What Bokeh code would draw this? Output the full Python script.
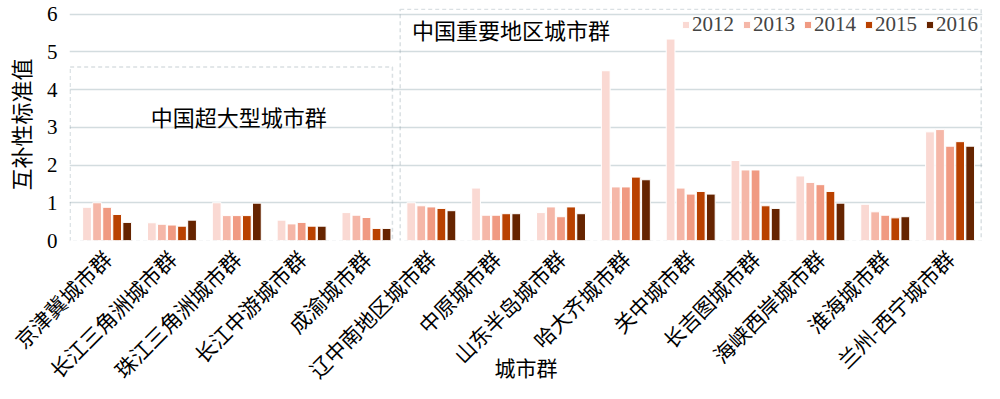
import math
from bokeh.plotting import figure
from bokeh.models import ColumnDataSource, FixedTicker, BoxAnnotation, Label, Range1d, Legend
from bokeh.transform import dodge
from bokeh.embed import file_html
from bokeh.resources import INLINE

cities = ["京津冀城市群", "长江三角洲城市群", "珠江三角洲城市群", "长江中游城市群", "成渝城市群",
          "辽中南地区城市群", "中原城市群", "山东半岛城市群", "哈大齐城市群", "关中城市群",
          "长吉图城市群", "海峡西岸城市群", "淮海城市群", "兰州-西宁城市群"]
years = ["2012", "2013", "2014", "2015", "2016"]
v2012 = [0.88, 0.47, 1.00, 0.54, 0.74, 1.00, 1.39, 0.74, 4.50, 5.34, 2.12, 1.71, 0.96, 2.88]
v2013 = [1.00, 0.43, 0.66, 0.44, 0.67, 0.92, 0.67, 0.89, 1.42, 1.39, 1.87, 1.54, 0.76, 2.94]
v2014 = [0.88, 0.41, 0.66, 0.48, 0.61, 0.89, 0.67, 0.63, 1.42, 1.23, 1.87, 1.48, 0.67, 2.50]
v2015 = [0.69, 0.38, 0.66, 0.38, 0.32, 0.85, 0.71, 0.89, 1.68, 1.30, 0.92, 1.30, 0.60, 2.62]
v2016 = [0.48, 0.54, 0.99, 0.38, 0.32, 0.79, 0.71, 0.71, 1.61, 1.23, 0.85, 0.99, 0.63, 2.50]
colors = ["#FAD9D3", "#F5B7A8", "#F09A82", "#B94100", "#662400"]
yticks = [0, 1, 2, 3, 4, 5, 6]

SERIF = "Liberation Serif, 'Noto Sans CJK SC'"
CJK = "'Noto Sans CJK SC'"

x_idx = [i + 0.5 for i in range(len(cities))]
src = ColumnDataSource(dict(x=x_idx, v2012=v2012, v2013=v2013, v2014=v2014, v2015=v2015, v2016=v2016))

p = figure(width=984, height=390, output_backend="svg", toolbar_location=None,
           x_range=Range1d(-0.08, 14.0), y_range=Range1d(0, 6.15),
           min_border_left=66, min_border_right=2, min_border_top=8, min_border_bottom=150)
p.outline_line_color = None
p.background_fill_color = "white"

cols = ["v2012", "v2013", "v2014", "v2015", "v2016"]
offs = [-0.31, -0.155, 0.0, 0.155, 0.31]
renderers = []
for k in range(5):
    r = p.vbar(x=dodge("x", offs[k], range=p.x_range), top=cols[k], width=0.135, bottom=0,
               source=src, fill_color=colors[k], line_color="white", line_width=1)
    renderers.append((years[k], [r]))

legend = Legend(items=renderers, orientation="horizontal", location="top_right",
                label_text_font=SERIF, label_text_font_size="21px", glyph_width=9, glyph_height=9,
                label_standoff=2, spacing=8, padding=2, margin=4,
                background_fill_alpha=0, border_line_color=None, label_height=14)
p.add_layout(legend, "center")

# axes
p.xaxis.ticker = FixedTicker(ticks=x_idx)
p.xaxis.major_label_overrides = {x: c for x, c in zip(x_idx, cities)}
p.xaxis.major_label_orientation = math.pi / 4
p.xaxis.major_label_text_font = CJK
p.xaxis.major_label_text_font_size = "21px"
p.xaxis.major_label_text_color = "black"
p.xaxis.axis_line_color = None
p.xaxis.major_tick_line_color = None
p.xaxis.minor_tick_line_color = None
p.xaxis.major_label_standoff = 8
p.xaxis.axis_label = "城市群"
p.xaxis.axis_label_text_font = CJK
p.xaxis.axis_label_text_font_size = "21px"
p.xaxis.axis_label_text_font_style = "normal"
p.xaxis.axis_label_text_color = "black"
p.xaxis.axis_label_standoff = -46

p.yaxis.ticker = FixedTicker(ticks=yticks)
p.yaxis.major_label_text_font = SERIF
p.yaxis.major_label_text_font_size = "21px"
p.yaxis.major_label_text_color = "black"
p.yaxis.axis_line_color = None
p.yaxis.major_tick_line_color = None
p.yaxis.minor_tick_line_color = None
p.yaxis.major_label_standoff = 6
p.yaxis.axis_label = "互补性标准值"
p.yaxis.axis_label_text_font = CJK
p.yaxis.axis_label_text_font_size = "22px"
p.yaxis.axis_label_text_font_style = "normal"
p.yaxis.axis_label_text_color = "black"
p.yaxis.axis_label_standoff = 8

p.xgrid.grid_line_color = None
p.ygrid.grid_line_color = "#D3DCDF"
p.ygrid.grid_line_width = 1.5
p.ygrid.ticker = FixedTicker(ticks=yticks)

# dashed group boxes
p.add_layout(BoxAnnotation(left=-0.07, right=4.9, bottom=-0.02, top=4.6, fill_alpha=0,
                           line_color="#8497A1", line_dash="4 3", line_width=1.5))
p.add_layout(BoxAnnotation(left=5.02, right=13.98, bottom=-0.02, top=6.13, fill_alpha=0,
                           line_color="#8497A1", line_dash="4 3", line_width=1.5))

p.add_layout(Label(x=2.53, y=3.3, text="中国超大型城市群", text_font=CJK, text_font_size="22px",
                   text_align="center", text_baseline="middle", text_color="black"))
p.add_layout(Label(x=5.2, y=5.6, text="中国重要地区城市群", text_font=CJK, text_font_size="22px",
                   text_align="left", text_baseline="middle", text_color="black"))

open("out.html", "w").write(file_html(p, INLINE))
